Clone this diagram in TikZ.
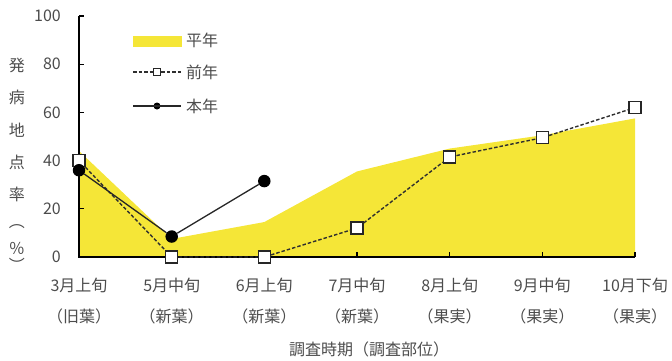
\documentclass[tikz,border=0pt]{standalone}
\usepackage{fontspec}
\setmainfont{Noto Sans CJK JP}
\begin{document}
\begin{tikzpicture}[x=1pt,y=1pt,
  lbl/.style={text=black!70, font=\fontsize{16}{16}\selectfont, inner sep=0pt},
  axisline/.style={line width=1.3pt, black},
  prevline/.style={line width=1.4pt, black!82, dash pattern=on 3.5pt off 2pt},
  curline/.style={line width=1.3pt, black!85},
  sqmark/.style={draw=black!85, fill=white, line width=1.4pt, minimum size=12pt, inner sep=0pt, rectangle},
  dotmark/.style={fill=black, circle, minimum size=12.5pt, inner sep=0pt},
  sqsmall/.style={draw=black!85, fill=white, line width=1.2pt, minimum size=7.5pt, inner sep=0pt, rectangle},
  dotsmall/.style={fill=black, circle, minimum size=7pt, inner sep=0pt}]
\definecolor{avgyellow}{RGB}{245,230,55}
\useasboundingbox (0,0) rectangle (672,360);
% average area
\fill[avgyellow] (79,103) -- (79,{103+2.41*44}) -- (171.7,{103+2.41*7.5}) -- (264.3,{103+2.41*14.5})
  -- (357,{103+2.41*35.5}) -- (449.7,{103+2.41*45}) -- (542.3,{103+2.41*50.5}) -- (635,{103+2.41*57.5}) -- (635,103) -- cycle;
% axes
\coordinate (o) at (79,103);
\coordinate (ytop) at (79,344);
\coordinate (xend) at (635,103);
\draw[axisline] (ytop) -- (o) -- (xend);
\foreach \v in {0,20,...,100} {
  \draw[axisline] (79,{103+2.41*\v}) -- ++(5,0);
  \node[lbl, anchor=east] (yt\v) at (61,{103+2.41*\v}) {\v};
}
\foreach \x in {171.7,264.3,357,449.7,542.3,635} {
  \draw[axisline] (\x,103) -- ++(0,5);
}
% category labels
\foreach \x/\a/\b [count=\i] in {79/3月上旬/（旧葉）,171.7/5月中旬/（新葉）,264.3/6月上旬/（新葉）,357/7月中旬/（新葉）,449.7/8月上旬/（果実）,542.3/9月中旬/（果実）,635/10月下旬/（果実）} {
  \node[lbl] (ca\i) at (\x,75) {\a};
  \node[lbl] (cb\i) at (\x,44) {\b};
}
\node[lbl] (xtitle) at (369,11) {調査時期（調査部位）};
% y title
\node[lbl] (t1) at (17,295) {発};
\node[lbl] (t2) at (17,263) {病};
\node[lbl] (t3) at (17,230) {地};
\node[lbl] (t4) at (17,198) {点};
\node[lbl] (t5) at (17,166) {率};
\node[lbl] (t6) at (17,133) {︵};
\node[lbl] (t7) at (17,112) {％};
\node[lbl] (t8) at (17,95) {︶};
% previous year
\node[sqmark] (p1) at (79,{103+2.41*40}) {};
\node[sqmark] (p2) at (171.7,{103+2.41*0}) {};
\node[sqmark] (p3) at (264.3,{103+2.41*0}) {};
\node[sqmark] (p4) at (357,{103+2.41*12}) {};
\node[sqmark] (p5) at (449.7,{103+2.41*41.5}) {};
\node[sqmark] (p6) at (542.3,{103+2.41*49.5}) {};
\node[sqmark] (p7) at (635,{103+2.41*62}) {};
\draw[prevline] (p1) -- (p2) -- (p3) -- (p4) -- (p5) -- (p6) -- (p7);
% current year
\node[dotmark] (c1) at (79,{103+2.41*36}) {};
\node[dotmark] (c2) at (171.7,{103+2.41*8.5}) {};
\node[dotmark] (c3) at (264.3,{103+2.41*31.5}) {};
\draw[curline] (c1) -- (c2) -- (c3);
% legend
\fill[avgyellow] (133,313) rectangle (182,324);
\node[lbl, anchor=west] (l1) at (186,320) {平年};
\coordinate (l2a) at (133,288);
\coordinate (l2b) at (181,288);
\node[sqsmall] (l2m) at (157,288) {};
\draw[prevline] (l2a) -- (l2m) (l2m) -- (l2b);
\node[lbl, anchor=west] (l2) at (186,288) {前年};
\coordinate (l3a) at (133,254);
\coordinate (l3b) at (181,254);
\node[dotsmall] (l3m) at (157,254) {};
\draw[curline] (l3a) -- (l3b);
\node[lbl, anchor=west] (l3) at (186,254) {本年};
\end{tikzpicture}
\end{document}
